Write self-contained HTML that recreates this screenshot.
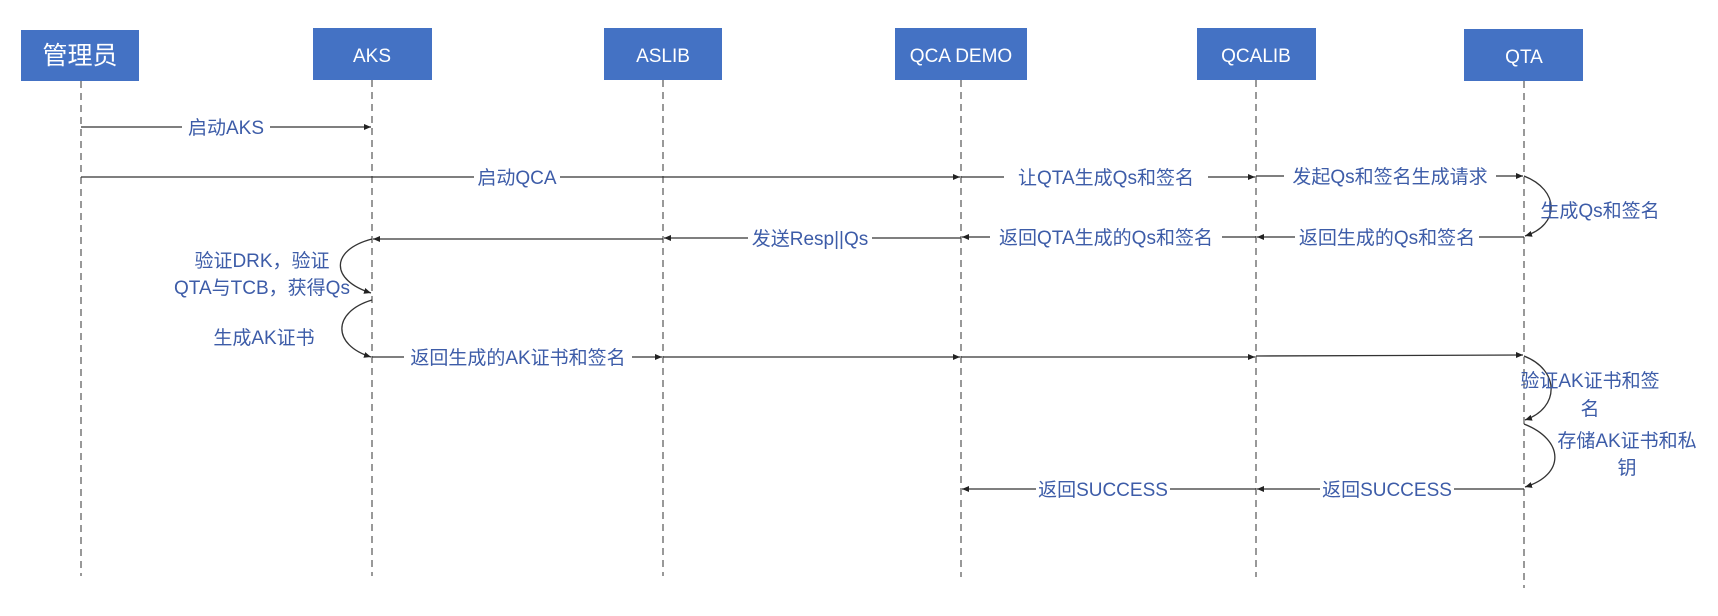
<!DOCTYPE html>
<html><head><meta charset="utf-8"><style>
html,body{margin:0;padding:0;background:#fff;}
svg{display:block;}
.lbl{font-family:"Liberation Sans","Noto Sans CJK SC",sans-serif;font-size:19px;fill:#3d5ca8;}
.box{font-family:"Liberation Sans","Noto Sans CJK SC",sans-serif;font-size:19px;fill:#fff;}
</style></head><body>
<svg width="1718" height="616" viewBox="0 0 1718 616" xmlns="http://www.w3.org/2000/svg">
<defs>
<marker id="a" markerWidth="8" markerHeight="8" refX="7" refY="4" orient="auto" markerUnits="userSpaceOnUse">
<path d="M0,1 L7,4 L0,7 z" fill="#222"/></marker>
</defs>
<g fill="#4472c4">
<rect x="21" y="30" width="118" height="51"/>
<rect x="313" y="28" width="119" height="52"/>
<rect x="604" y="28" width="118" height="52"/>
<rect x="895" y="28" width="132" height="52"/>
<rect x="1197" y="28" width="119" height="52"/>
<rect x="1464" y="29" width="119" height="52"/>
</g>
<text class="box" x="80" y="64" text-anchor="middle" style="font-size:25px">管理员</text>
<text class="box" x="372" y="62" text-anchor="middle">AKS</text>
<text class="box" x="663" y="62" text-anchor="middle">ASLIB</text>
<text class="box" x="961" y="62" text-anchor="middle">QCA DEMO</text>
<text class="box" x="1256" y="62" text-anchor="middle">QCALIB</text>
<text class="box" x="1524" y="63" text-anchor="middle">QTA</text>
<g stroke="#333" stroke-width="1" stroke-dasharray="7,5">
<line x1="81" y1="81" x2="81" y2="576"/>
<line x1="372" y1="80" x2="372" y2="576"/>
<line x1="663" y1="80" x2="663" y2="576"/>
<line x1="961" y1="80" x2="961" y2="577"/>
<line x1="1256" y1="80" x2="1256" y2="577"/>
<line x1="1524" y1="81" x2="1524" y2="588"/>
</g>
<g stroke="#333" stroke-width="1.3" fill="none" marker-end="url(#a)">
<line x1="81" y1="127" x2="371" y2="127"/>
<line x1="81" y1="177" x2="960" y2="177"/>
<line x1="961" y1="177" x2="1255" y2="177"/>
<line x1="1256" y1="176" x2="1523" y2="176"/>
<path d="M1524,176 C1560,190 1560,225 1525,236"/>
<line x1="1524" y1="237" x2="1257" y2="237"/>
<line x1="1256" y1="237" x2="962" y2="237"/>
<line x1="961" y1="238" x2="664" y2="238"/>
<line x1="663" y1="239" x2="373" y2="239"/>
<path d="M372,239 C330,250 330,280 371,293"/>
<path d="M372,300 C332,312 332,345 371,357"/>
<line x1="372" y1="357" x2="662" y2="357"/>
<line x1="663" y1="357" x2="960" y2="357"/>
<line x1="961" y1="357" x2="1255" y2="357"/>
<line x1="1256" y1="356" x2="1523" y2="355"/>
<path d="M1524,356 C1560,370 1560,408 1525,420"/>
<path d="M1524,424 C1565,440 1565,475 1525,487"/>
<line x1="1524" y1="489" x2="1257" y2="489"/>
<line x1="1256" y1="489" x2="962" y2="489"/>
</g>
<g class="lbl" text-anchor="middle">
<rect x="182" y="116" width="88" height="22" fill="#fff"/>
<text x="226" y="134">启动AKS</text>
<rect x="474" y="166" width="86" height="22" fill="#fff"/>
<text x="517" y="184">启动QCA</text>
<rect x="1004" y="166" width="204" height="22" fill="#fff"/>
<text x="1106" y="184">让QTA生成Qs和签名</text>
<rect x="1284" y="165" width="212" height="22" fill="#fff"/>
<text x="1390" y="183">发起Qs和签名生成请求</text>
<text x="1600" y="217">生成Qs和签名</text>
<rect x="1295" y="226" width="184" height="22" fill="#fff"/>
<text x="1387" y="244">返回生成的Qs和签名</text>
<rect x="990" y="226" width="232" height="22" fill="#fff"/>
<text x="1106" y="244">返回QTA生成的Qs和签名</text>
<rect x="748" y="227" width="124" height="22" fill="#fff"/>
<text x="810" y="245">发送Resp||Qs</text>
<text x="262" y="267">验证DRK，验证</text>
<text x="262" y="294">QTA与TCB，获得Qs</text>
<text x="264" y="344">生成AK证书</text>
<rect x="404" y="346" width="228" height="22" fill="#fff"/>
<text x="518" y="364">返回生成的AK证书和签名</text>
<text x="1590" y="387">验证AK证书和签</text>
<text x="1590" y="415">名</text>
<text x="1627" y="447">存储AK证书和私</text>
<text x="1627" y="474">钥</text>
<rect x="1320" y="478" width="134" height="22" fill="#fff"/>
<text x="1387" y="496">返回SUCCESS</text>
<rect x="1036" y="478" width="134" height="22" fill="#fff"/>
<text x="1103" y="496">返回SUCCESS</text>
</g>
</svg>
</body></html>
